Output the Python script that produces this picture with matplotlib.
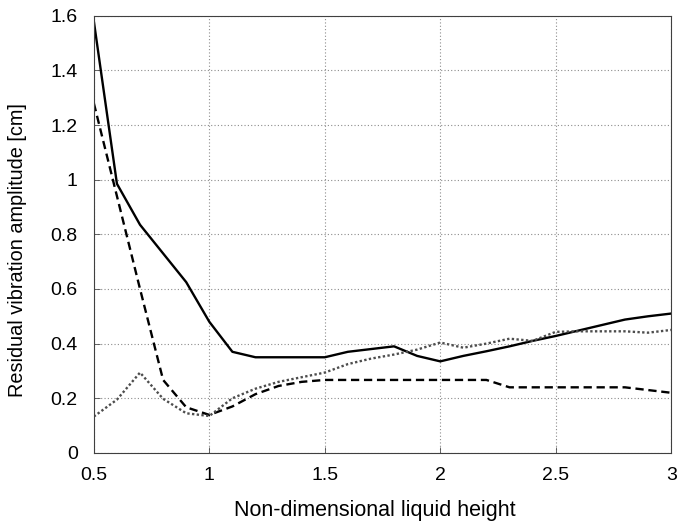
import numpy as np
import matplotlib
matplotlib.use('Agg')
import matplotlib.pyplot as plt

plt.rcParams.update({
    'font.family': ['Liberation Sans', 'DejaVu Sans'],
    'font.size': 14,
})

# Non-dimensional liquid height
height = [0.5, 0.6, 0.7, 0.8, 0.9, 1.0, 1.1, 1.2, 1.3, 1.4, 1.5, 1.6, 1.7,
          1.8, 1.9, 2.0, 2.1, 2.2, 2.3, 2.4, 2.5, 2.6, 2.7, 2.8, 2.9, 3.0]

# Residual vibration amplitude [cm]
amp_solid = [1.58, 0.985, 0.835, 0.73, 0.625, 0.48, 0.37, 0.35, 0.35, 0.35,
             0.35, 0.37, 0.38, 0.39, 0.355, 0.335, 0.355, 0.372, 0.39, 0.41,
             0.428, 0.448, 0.468, 0.488, 0.50, 0.51]
amp_dashed = [1.28, 0.94, 0.60, 0.267, 0.167, 0.139, 0.17, 0.215, 0.245, 0.26,
              0.267, 0.267, 0.267, 0.267, 0.267, 0.267, 0.267, 0.267, 0.24,
              0.24, 0.24, 0.24, 0.24, 0.24, 0.23, 0.22]
amp_dotted = [0.133, 0.195, 0.294, 0.198, 0.145, 0.135, 0.20, 0.235, 0.26,
              0.277, 0.294, 0.325, 0.345, 0.36, 0.378, 0.404, 0.385, 0.40,
              0.418, 0.41, 0.443, 0.445, 0.445, 0.445, 0.44, 0.45]

xticks = [0.5, 1, 1.5, 2, 2.5, 3]
xtick_labels = ['0.5', '1', '1.5', '2', '2.5', '3']
yticks = [0, 0.2, 0.4, 0.6, 0.8, 1.0, 1.2, 1.4, 1.6]
ytick_labels = ['0', '0.2', '0.4', '0.6', '0.8', '1', '1.2', '1.4', '1.6']

fig = plt.figure(figsize=(6.8, 5.26), dpi=100)
ax = fig.add_axes([0.138, 0.139, 0.849, 0.831])

ax.plot(height, amp_solid, color='black', linewidth=1.7, linestyle='-')
ax.plot(height, amp_dashed, color='black', linewidth=1.7, linestyle=(0, (3.5, 2)))
ax.plot(height, amp_dotted, color='0.3', linewidth=1.7, linestyle=(0, (1, 1)))

ax.set_xlim(0.5, 3)
ax.set_ylim(0, 1.6)
ax.set_xticks(xticks)
ax.set_xticklabels(xtick_labels)
ax.set_yticks(yticks)
ax.set_yticklabels(ytick_labels)
ax.tick_params(axis='both', direction='in', length=4, width=0.6, color='0.3')
ax.tick_params(axis='x', pad=10.5)
ax.tick_params(axis='y', pad=11.5)
ax.grid(True, linestyle=(0, (1, 2)), color='0.55', linewidth=0.8)

for s in ax.spines.values():
    s.set_linewidth(0.8)
    s.set_color('0.25')

ax.set_xlabel('Non-dimensional liquid height', fontsize=15.5)
ax.set_ylabel('Residual vibration amplitude [cm]', fontsize=14.3)
ax.xaxis.set_label_coords(0.487, -0.108)
ax.yaxis.set_label_coords(-0.116, 0.465)

fig.savefig('out.png', dpi=100)
